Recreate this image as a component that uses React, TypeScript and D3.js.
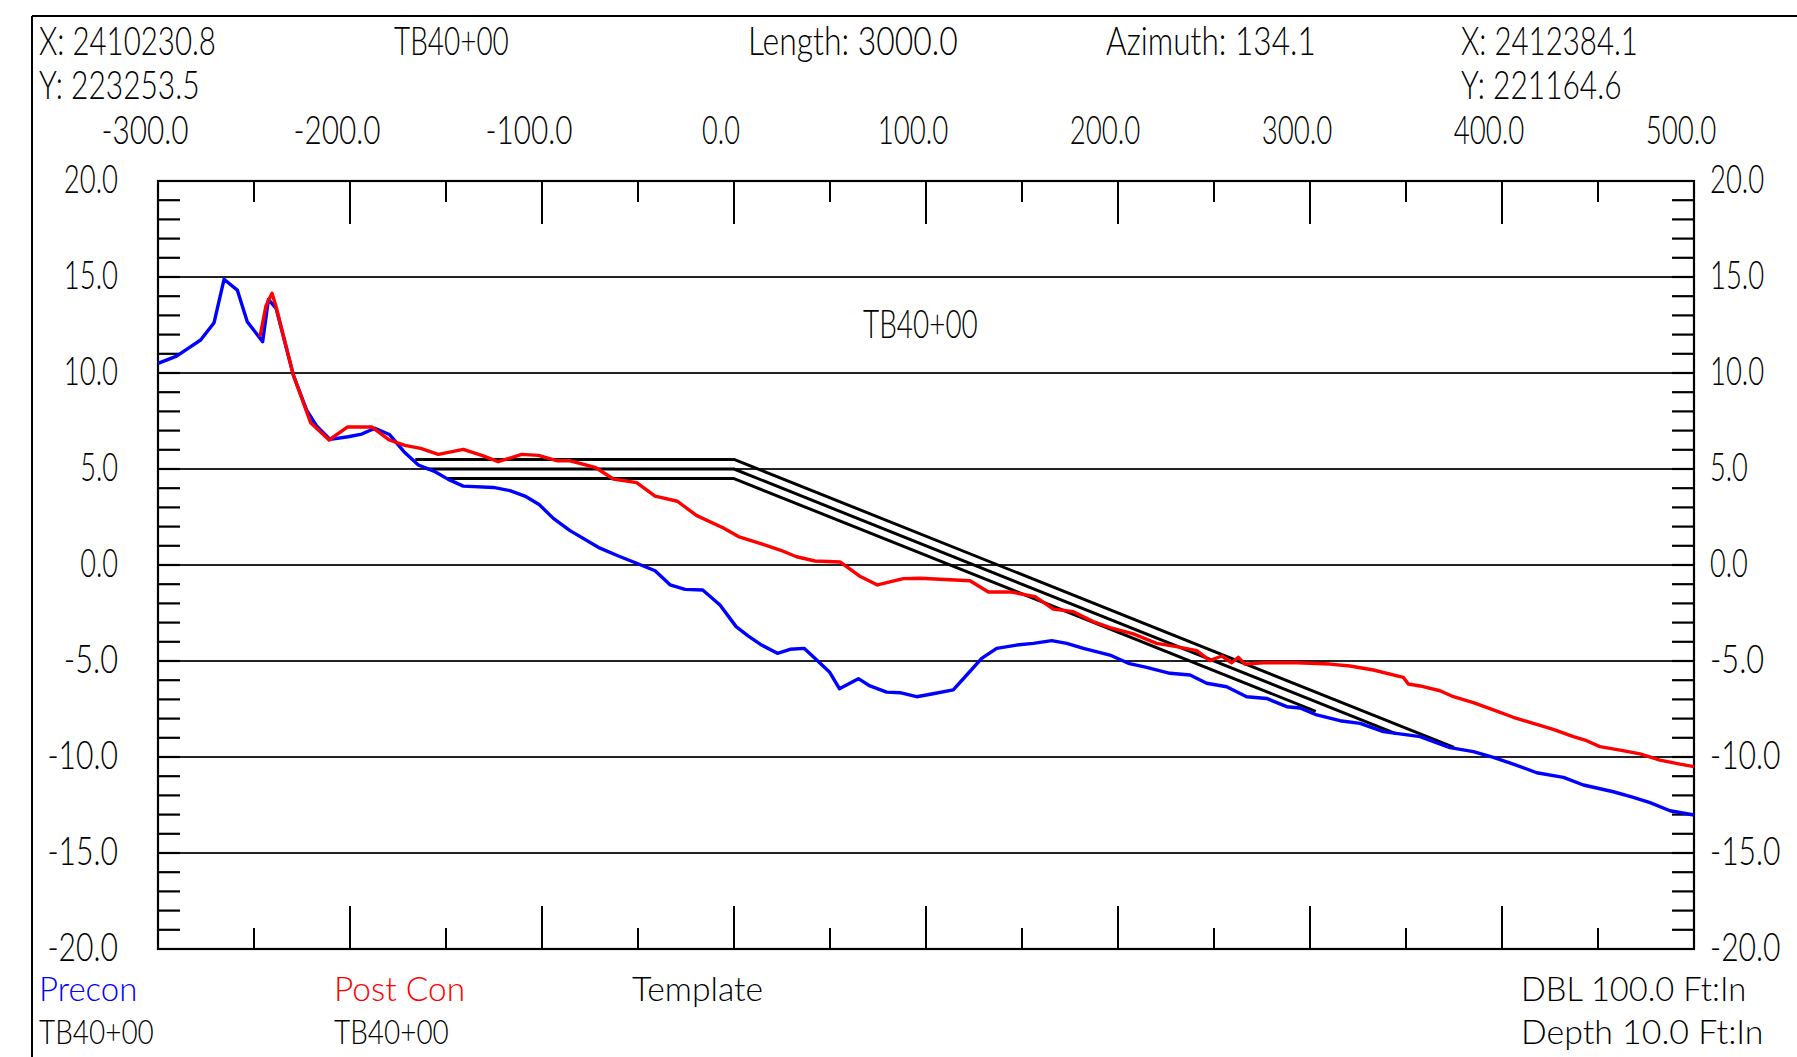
import React from 'react';
import * as d3 from 'd3';

// ---------- data ----------
const preconStation = [
  -300, -290.3, -285.1, -277.8, -270.8, -265.6, -258.7, -253.5, -245.5, -242.5, -238.5,
  -229.5, -222.6, -217.4, -210.4, -200.9, -193.9, -187.0, -179.5, -171.9, -164.4, -155.7,
  -148.8, -141.0, -125.3, -116.7, -108.9, -101.5, -94.1, -85.4, -70.7, -60.2, -50.7, -41.1,
  -33.3, -25.5, -16.3, -7.3, 1.1, 7.5, 14.4, 22.6, 29.2, 36.5, 43.1, 49.7, 54.9, 64.8, 70.8,
  79.5, 86.5, 95.1, 103.0, 114.2, 121.2, 129.0, 136.8, 147.2, 155.9, 165.5, 173.3, 182.0,
  195.8, 205.4, 214.9, 227.1, 237.5, 246.2, 256.6, 267.0, 277.4, 287.9, 294.8, 303.5, 315.6,
  326.1, 338.2, 357.3, 372.9, 385.1, 395.5, 405.9, 418.1, 432.0, 442.4, 458.0, 468.4, 477.1,
  487.5, 500,
];
const preconElev = [
  10.5, 10.88, 11.23, 11.72, 12.62, 14.88, 14.32, 12.67, 11.63, 13.83, 13.37,
  9.89, 8.07, 7.24, 6.54, 6.68, 6.82, 7.12, 6.8, 5.9, 5.21, 4.86,
  4.46, 4.11, 4.04, 3.87, 3.59, 3.15, 2.43, 1.79, 0.92, 0.47, 0.09, -0.3,
  -1.03, -1.27, -1.3, -2.08, -3.21, -3.7, -4.17, -4.6, -4.39, -4.34, -4.95, -5.57, -6.44, -5.92, -6.3,
  -6.62, -6.65, -6.86, -6.72, -6.5, -5.73, -4.86, -4.34, -4.17, -4.08, -3.94, -4.08, -4.34,
  -4.69, -5.12, -5.33, -5.64, -5.73, -6.16, -6.34, -6.86, -6.95, -7.38, -7.45, -7.81, -8.11,
  -8.25, -8.68, -8.94, -9.51, -9.72, -10.02, -10.37, -10.82, -11.06, -11.46, -11.81, -12.1, -12.38,
  -12.8, -13.02,
];

const postStation = [
  -246.9, -243.8, -240.6, -238.5, -229.5, -220.5, -210.9, -201.2, -188.7, -179.5, -171.4,
  -163.2, -154.0, -141.0, -131.4, -122.8, -110.6, -101.9, -92.4, -85.4, -72.4, -62.8, -50.7,
  -41.1, -29.5, -19.4, -5.5, 2.3, 13.5, 24.0, 32.6, 42.2, 55.2, 65.3, 74.7, 88.2, 96.9, 122.9,
  132.5, 144.6, 156.8, 166.3, 176.7, 187.1, 195.8, 208.0, 220.1, 230.5, 241.0, 247.9, 254.0,
  259.2, 262.7, 266.1, 275.7, 293.1, 310.4, 320.8, 333.0, 348.6, 351.2, 357.3, 367.7, 374.7,
  385.1, 395.5, 405.9, 416.3, 426.7, 437.2, 444.1, 451.0, 461.5, 471.9, 482.3, 492.7, 500,
];
const postElev = [
  11.89, 13.49, 14.15, 13.45, 9.89, 7.41, 6.51, 7.19, 7.19, 6.51, 6.23,
  6.07, 5.76, 6.02, 5.71, 5.38, 5.76, 5.71, 5.43, 5.43, 5.09, 4.48, 4.29,
  3.59, 3.32, 2.57, 1.93, 1.48, 1.13, 0.78, 0.43, 0.21, 0.16, -0.57, -1.04, -0.71, -0.69, -0.82,
  -1.41, -1.41, -1.65, -2.29, -2.43, -2.95, -3.26, -3.59, -4.08, -4.25, -4.46, -4.98, -4.74,
  -5.09, -4.81, -5.16, -5.09, -5.09, -5.16, -5.26, -5.47, -5.85, -6.2, -6.3, -6.55, -6.86,
  -7.17, -7.55, -7.93, -8.25, -8.56, -8.94, -9.15, -9.46, -9.64, -9.84, -10.16, -10.37, -10.5,
];

// template: three parallel lines, flat to station 0 then falling to the ground
const templateTopStation = [-166, 0, 375];
const templateTopElev = [5.5, 5.5, -9.5];
const templateMidStation = [-160, 0, 345];
const templateMidElev = [5.0, 5.0, -8.8];
const templateLowStation = [-149, 0, 303];
const templateLowElev = [4.5, 4.5, -7.62];

const xTickValues = [-300, -200, -100, 0, 100, 200, 300, 400, 500];
const xTickLabels = ['-300.0', '-200.0', '-100.0', '0.0', '100.0', '200.0', '300.0', '400.0', '500.0'];
const yTickValues = [20, 15, 10, 5, 0, -5, -10, -15, -20];
const yTickLabels = ['20.0', '15.0', '10.0', '5.0', '0.0', '-5.0', '-10.0', '-15.0', '-20.0'];

const startX = 'X: 2410230.8';
const startY = 'Y: 223253.5';
const endX = 'X: 2412384.1';
const endY = 'Y: 221164.6';
const sectionName = 'TB40+00';
const lengthText = 'Length: 3000.0';
const azimuthText = 'Azimuth: 134.1';
const legendPrecon = 'Precon';
const legendPost = 'Post Con';
const legendTemplate = 'Template';
const scaleH = 'DBL 100.0 Ft:In';
const scaleV = 'Depth 10.0 Ft:In';

// ---------- drawing ----------
const W = 1797;
const H = 1057;
const L = 158, R = 1694, T = 181, B = 949;

const FONT = "Lato, 'Liberation Sans', sans-serif";
const FS = 40;
const FS_FOOT = 34;
const FW = 300;

function cadWidth(s: string): number {
  let w = 0;
  for (const c of s) {
    if (c === '.') w += 5;
    else if (c === ':') w += 8;
    else w += 16.4;
  }
  return w;
}

let measureCtx: CanvasRenderingContext2D | null = null;
function naturalWidth(s: string, fs: number): number {
  if (!measureCtx && typeof document !== 'undefined') {
    const c = document.createElement('canvas');
    measureCtx = c.getContext('2d');
  }
  if (!measureCtx) return s.length * fs * 0.55;
  measureCtx.font = `${FW} ${fs}px Lato, 'Liberation Sans', sans-serif`;
  return measureCtx.measureText(s).width || s.length * fs * 0.55;
}

function CadText(props: { x: number; y: number; text: string; anchor?: string; fill?: string; fs?: number }) {
  const { x, y, text, anchor = 'start', fill = '#000', fs = FS } = props;
  const sx = cadWidth(text) / naturalWidth(text, fs);
  return (
    <text
      transform={`translate(${x} ${y}) scale(${sx} 1)`}
      x={0}
      y={0}
      textAnchor={anchor}
      fill={fill}
      fontFamily={FONT}
      fontWeight={FW}
      fontSize={fs}
    >
      {text}
    </text>
  );
}

export default function App() {
  const x = d3.scaleLinear().domain([-300, 500]).range([L, R]);
  const y = d3.scaleLinear().domain([-20, 20]).range([B, T]);

  const line = d3
    .line<[number, number]>()
    .x((d) => x(d[0]))
    .y((d) => y(d[1]));

  const zip = (a: number[], b: number[]) => a.map((v, i) => [v, b[i]] as [number, number]);

  const precon = zip(preconStation, preconElev);
  const post = zip(postStation, postElev);
  const templates = [
    zip(templateTopStation, templateTopElev),
    zip(templateMidStation, templateMidElev),
    zip(templateLowStation, templateLowElev),
  ];

  const minorY = d3.range(-19, 20, 1);
  const xTicks = d3.range(-250, 500, 50);
  const gridY = yTickValues.filter((v) => v > -20 && v < 20);

  return (
    <svg
      width={W}
      height={H}
      style={{ position: 'absolute', left: 0, top: 0, background: '#fff' }}
    >
      <rect x={0} y={0} width={W} height={H} fill="#fff" />
      {/* outer sheet border */}
      <line x1={32} y1={16} x2={W} y2={16} stroke="#000" strokeWidth={2} />
      <line x1={32} y1={16} x2={32} y2={H} stroke="#000" strokeWidth={2} />

      {/* header */}
      <CadText x={39} y={55} text={startX} />
      <CadText x={39} y={99} text={startY} />
      <CadText x={394} y={55} text={sectionName} />
      <CadText x={748} y={55} text={lengthText} />
      <CadText x={1106} y={55} text={azimuthText} />
      <CadText x={1461} y={55} text={endX} />
      <CadText x={1461} y={99} text={endY} />

      {/* top station labels */}
      {xTickValues.map((v, i) => (
        <CadText key={'xl' + v} x={x(v) - 13} y={144} text={xTickLabels[i]} anchor="middle" />
      ))}

      {/* elevation labels */}
      {yTickValues.map((v, i) => (
        <g key={'yl' + v}>
          <CadText x={118} y={y(v) + 12} text={yTickLabels[i]} anchor="end" />
          <CadText x={1710} y={y(v) + 12} text={yTickLabels[i]} anchor="start" />
        </g>
      ))}

      {/* grid lines */}
      {gridY.map((v) => (
        <line key={'g' + v} x1={L} x2={R} y1={y(v)} y2={y(v)} stroke="#222" strokeWidth={2} />
      ))}

      {/* side ticks */}
      {minorY.map((v) => (
        <g key={'t' + v}>
          <line x1={L} x2={L + 22} y1={y(v)} y2={y(v)} stroke="#000" strokeWidth={2.2} />
          <line x1={R - 22} x2={R} y1={y(v)} y2={y(v)} stroke="#000" strokeWidth={2.2} />
        </g>
      ))}

      {/* top & bottom ticks */}
      {xTicks.map((v) => {
        const len = v % 100 === 0 ? 43 : 21;
        return (
          <g key={'xt' + v}>
            <line x1={x(v)} x2={x(v)} y1={T} y2={T + len} stroke="#000" strokeWidth={2} />
            <line x1={x(v)} x2={x(v)} y1={B} y2={B - len} stroke="#000" strokeWidth={2} />
          </g>
        );
      })}

      {/* plot frame */}
      <rect x={L} y={T} width={R - L} height={B - T} fill="none" stroke="#000" strokeWidth={2.2} />

      {/* template */}
      {templates.map((t, i) => (
        <path key={'tp' + i} d={line(t) || ''} fill="none" stroke="#000" strokeWidth={3} strokeLinejoin="round" />
      ))}

      {/* ground lines */}
      <path d={line(precon) || ''} fill="none" stroke="#0000ff" strokeWidth={3.4} strokeLinejoin="round" />
      <path d={line(post) || ''} fill="none" stroke="#ff0000" strokeWidth={3.4} strokeLinejoin="round" />

      {/* in-plot label */}
      <CadText x={863} y={338} text={sectionName} />

      {/* legend / footer */}
      <CadText x={39} y={1001} text={legendPrecon} fill="#0000ff" fs={FS_FOOT} />
      <CadText x={39} y={1044} text={sectionName} fs={FS_FOOT} />
      <CadText x={334} y={1001} text={legendPost} fill="#ff0000" fs={FS_FOOT} />
      <CadText x={334} y={1044} text={sectionName} fs={FS_FOOT} />
      <CadText x={632} y={1001} text={legendTemplate} fs={FS_FOOT} />
      <CadText x={1521} y={1001} text={scaleH} fs={FS_FOOT} />
      <CadText x={1521} y={1044} text={scaleV} fs={FS_FOOT} />
    </svg>
  );
}
